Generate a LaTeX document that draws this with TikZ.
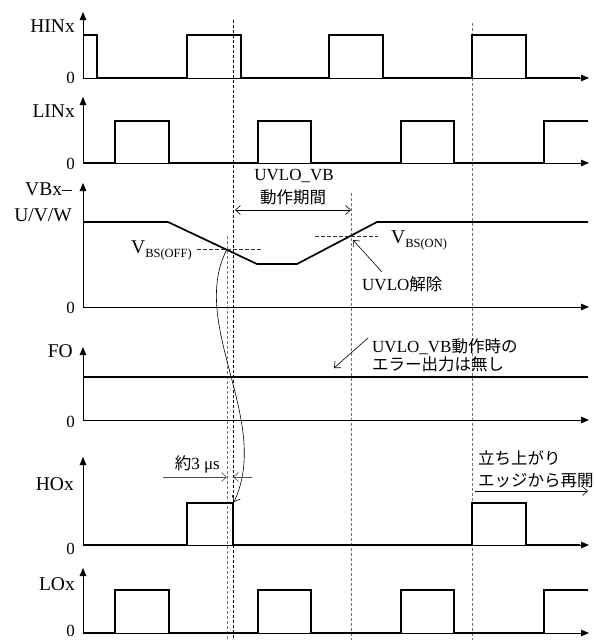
\documentclass[tikz,border=0pt]{standalone}
\usepackage{fontspec}
\setmainfont{Liberation Serif}
\newfontfamily\jp{Noto Sans CJK JP}
\usetikzlibrary{arrows.meta}
\begin{document}
\begin{tikzpicture}[x=1pt,y=-1pt,
  wave/.style={line width=1.7pt, line join=miter},
  axisline/.style={line width=0.8pt, -{Triangle[length=8pt,width=6.5pt]}},
  guideblk/.style={line width=0.7pt, dash pattern=on 3pt off 2pt},
  guidegry/.style={line width=0.9pt, black!55, dash pattern=on 3pt off 2pt},
  refdash/.style={line width=0.7pt, black!80, dash pattern=on 3.5pt off 2.5pt},
  annot/.style={line width=0.6pt, -{Straight Barb[length=5pt,width=9pt]}},
  biannot/.style={line width=0.6pt, {Straight Barb[length=5pt,width=9pt]}-{Straight Barb[length=5pt,width=9pt]}},
  biglbl/.style={font=\fontsize{19.5}{20}\selectfont, inner sep=0pt},
  lbl/.style={font=\fontsize{17}{19}\selectfont, inner sep=0pt},
  jplbl/.style={font=\fontsize{16.5}{19}\selectfont\jp, inner sep=0pt},
]
\useasboundingbox (0,0) rectangle (595,640);
% guide lines
\draw[guideblk] (233,20) -- (233,640);
\draw[guidegry] (227,236) -- (227,640);
\draw[guidegry] (351,193) -- (351,640);
\draw[guidegry] (472,23) -- (472,640);
% axes
\foreach \z/\t in {78/12, 163/97, 307/183, 420/347, 545/457, 633/568} {
  \draw[axisline] (83,\z) -- (83,\t);
  \draw[axisline] (83,\z) -- (589,\z);
}
% axis labels
\node[biglbl, anchor=base east] (hinl) at (75,32) {HINx};
\node[lbl, anchor=base east] (hin0) at (75,83) {0};
\node[biglbl, anchor=base east] (linl) at (75,117) {LINx};
\node[lbl, anchor=base east] (lin0) at (75,169) {0};
\node[biglbl, anchor=base east] (vbl1) at (72,195) {VBx–};
\node[biglbl, anchor=base east] (vbl2) at (72,221) {U/V/W};
\node[lbl, anchor=base east] (vb0) at (75,313) {0};
\node[biglbl, anchor=base east] (fol) at (73,357) {FO};
\node[lbl, anchor=base east] (fo0) at (75,427) {0};
\node[biglbl, anchor=base east] (hol) at (74,490) {HOx};
\node[lbl, anchor=base east] (ho0) at (75,554) {0};
\node[biglbl, anchor=base east] (lol) at (75,590) {LOx};
\node[lbl, anchor=base east] (lo0) at (75,636.5) {0};
% waveforms
\draw[wave] (83,35) -- (97,35) -- (97,78) -- (187,78) -- (187,35) -- (241,35) -- (241,78)
  -- (329,78) -- (329,35) -- (383,35) -- (383,78) -- (472,78) -- (472,35) -- (526,35)
  -- (526,78) -- (580,78);
\draw[wave] (83,163) -- (115,163) -- (115,121) -- (169,121) -- (169,163) -- (258,163)
  -- (258,121) -- (311,121) -- (311,163) -- (401,163) -- (401,121) -- (454,121)
  -- (454,163) -- (544,163) -- (544,121) -- (588,121);
\draw[wave] (83,222) -- (168,222) -- (257,264) -- (297,264) -- (377,222) -- (588,222);
\draw[wave] (83,377) -- (588,377);
\draw[wave] (83,545) -- (187,545) -- (187,503) -- (233,503) -- (233,545) -- (472,545)
  -- (472,503) -- (526,503) -- (526,545) -- (580,545);
\draw[wave] (83,633) -- (115,633) -- (115,590) -- (169,590) -- (169,633) -- (258,633)
  -- (258,590) -- (311,590) -- (311,633) -- (401,633) -- (401,590) -- (454,590)
  -- (454,633) -- (544,633) -- (544,590) -- (588,590);
% VBS thresholds
\draw[refdash] (197,249) -- (262,249);
\draw[refdash] (315,236) -- (378,236);
\node[biglbl, anchor=base east] (vbsoff) at (192,253) {V\raisebox{-4pt}{\fontsize{12.5}{13}\selectfont BS(OFF)}};
\node[biglbl, anchor=base west] (vbson) at (391,243) {V\raisebox{-4pt}{\fontsize{12.5}{13}\selectfont BS(ON)}};
% UVLO_VB period
\node[lbl] (uvlovb) at (294,176) {UVLO\_VB};
\node[jplbl] (dosa) at (293,197) {動作期間};
\coordinate (pa) at (235,210);
\coordinate (pb) at (351,210);
\draw[biannot] (pa) -- (pb);
% UVLO release
\node[lbl, anchor=base west] (kaijo) at (362,290) {UVLO{\jp\fontsize{16.5}{19}\selectfont 解除}};
\coordinate (kaijotail) at (382,272);
\coordinate (kaijohead) at (353,240);
\draw[annot] (kaijotail) -- (kaijohead);
% FO note
\node[lbl, anchor=base west] (fonote1) at (372,352) {UVLO\_VB{\jp\fontsize{16.5}{19}\selectfont 動作時の}};
\node[jplbl, anchor=base west] (fonote2) at (372,370) {エラー出力は無し};
\coordinate (fotail) at (368,338);
\coordinate (fohead) at (334,368);
\draw[annot] (fotail) -- (fohead);
% delay curve
\coordinate (cross) at (227,249);
\coordinate (hofall) at (234,502);
\draw[annot, line width=0.6pt] (cross) .. controls (188,325) and (272,420) .. (hofall);
% 3 us
\node[lbl, anchor=base east] (us3) at (220,469) {{\jp\fontsize{16.5}{19}\selectfont 約}3 μs};
\coordinate (d1) at (163,477);
\coordinate (d2) at (227,477);
\coordinate (d3) at (252,477);
\coordinate (d4) at (233,477);
\draw[annot, black!70] (d1) -- (d2);
\draw[annot, black!70] (d3) -- (d4);
% restart
\node[jplbl, anchor=base west] (restart1) at (478,464) {立ち上がり};
\node[jplbl, anchor=base west] (restart2) at (478,486) {エッジから再開};
\coordinate (r1) at (475,491);
\coordinate (r2) at (588,491);
\draw[annot] (r1) -- (r2);
\end{tikzpicture}
\end{document}
